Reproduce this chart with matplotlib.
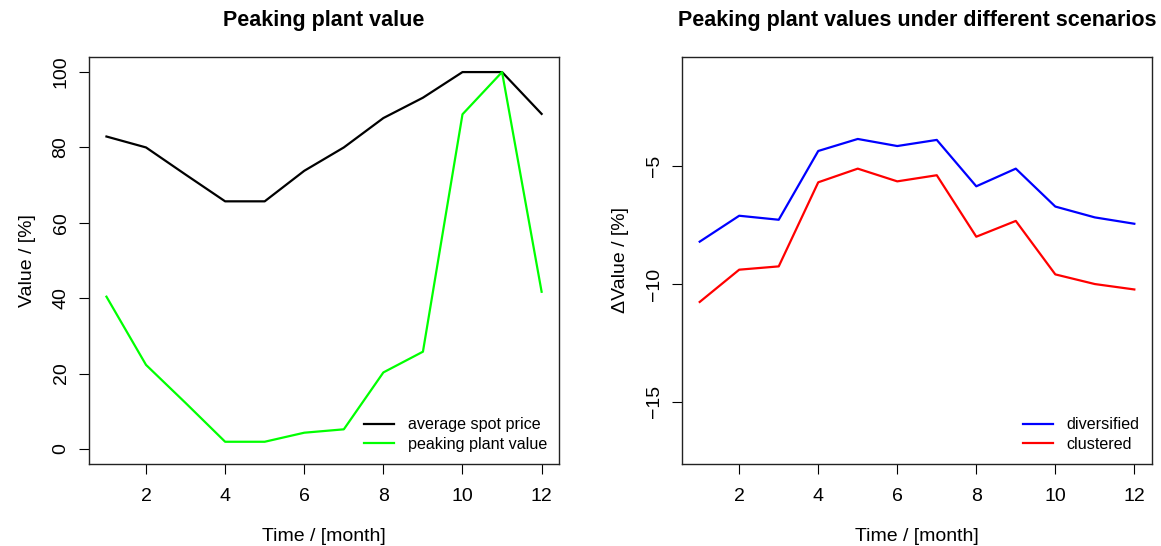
import matplotlib
matplotlib.use("Agg")
import matplotlib.pyplot as plt

plt.rcParams['font.family'] = ['Liberation Sans', 'DejaVu Sans']

months = list(range(1, 13))
spot_price = [82.9, 80.0, 72.8, 65.7, 65.7, 73.8, 80.0, 87.8, 93.2, 100.0, 100.0, 88.9]
peaking_value = [40.4, 22.3, 12.2, 1.9, 1.9, 4.3, 5.2, 20.3, 25.8, 88.8, 100.0, 41.7]

diversified = [-8.2, -7.1, -7.27, -4.35, -3.84, -4.14, -3.88, -5.85, -5.1, -6.71, -7.17, -7.44]
clustered = [-10.76, -9.39, -9.25, -5.68, -5.1, -5.64, -5.38, -7.99, -7.32, -9.59, -10.0, -10.23]

fig = plt.figure(figsize=(11.61, 5.46), dpi=100)
ax1 = fig.add_axes([0.0767, 0.1502, 0.4048, 0.7454])
ax2 = fig.add_axes([0.5877, 0.1502, 0.4043, 0.7454])


def style(ax):
    for s in ax.spines.values():
        s.set_linewidth(1.0)
        s.set_color('#222222')
    ax.tick_params(direction='out', length=7, width=0.8, labelsize=14, pad=7)
    ax.tick_params(axis='x', pad=10.5)
    ax.set_xticks([2, 4, 6, 8, 10, 12])
    for lab in ax.get_yticklabels():
        lab.set_rotation(90)
        lab.set_va('center')
    ax.set_xlim(0.56, 12.44)
    ax.set_xlabel("Time / [month]", fontsize=14, labelpad=16)


def add_legend(ax):
    ax.legend(loc='lower right', frameon=False, fontsize=11.6, handlelength=1.86,
              handletextpad=0.87, labelspacing=0.28, borderaxespad=0.35)


ax1.plot(months, spot_price, color='black', lw=1.6, label="average spot price")
ax1.plot(months, peaking_value, color='#00FF00', lw=1.6, label="peaking plant value")
ax1.set_ylim(-4, 104)
ax1.set_yticks([0, 20, 40, 60, 80, 100])
ax1.set_ylabel("Value / [%]", fontsize=14, labelpad=12)
ax1.set_title("Peaking plant value", fontsize=15.5, fontweight='bold', pad=22)
style(ax1)
add_legend(ax1)

ax2.plot(months, diversified, color='#0000FF', lw=1.6, label="diversified")
ax2.plot(months, clustered, color='#FF0000', lw=1.6, label="clustered")
ax2.set_ylim(-17.64, -0.36)
ax2.set_yticks([-15, -10, -5])
ax2.set_ylabel("\u0394Value / [%]", fontsize=14, labelpad=12)
ax2.set_title("Peaking plant values under different scenarios", fontsize=15.5,
              fontweight='bold', pad=22)
style(ax2)
add_legend(ax2)

fig.savefig("out.png", dpi=100)
